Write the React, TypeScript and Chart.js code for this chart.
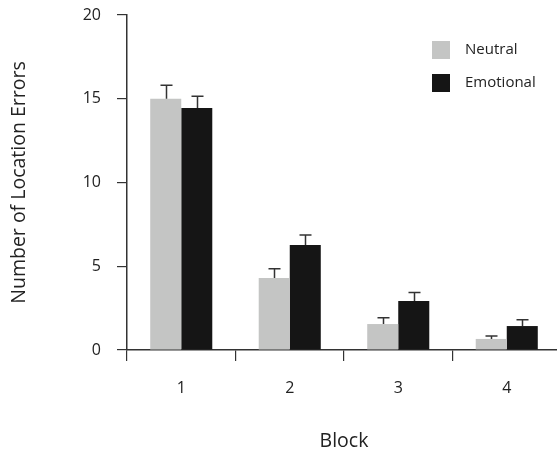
import React, { useEffect, useRef } from "react";
import { Chart, registerables } from "chart.js";

Chart.register(...registerables);

const blocks = ["1", "2", "3", "4"];
const neutralMeans = [15.0, 4.3, 1.55, 0.66];
const neutralErr = [0.8, 0.55, 0.38, 0.18];
const emotionalMeans = [14.45, 6.27, 2.93, 1.43];
const emotionalErr = [0.7, 0.6, 0.5, 0.38];
const yTicks = [0, 5, 10, 15, 20];

const errors = [neutralErr, emotionalErr];

const FONT = "'Open Sans', 'Noto Sans', sans-serif";
const AXIS = "#333333";

const errorBarPlugin = {
  id: "errorBars",
  afterDatasetsDraw(chart: any) {
    const ctx = chart.ctx;
    const yScale = chart.scales.y;
    ctx.save();
    ctx.strokeStyle = "#333333";
    ctx.lineWidth = 1.5;
    chart.data.datasets.forEach((ds: any, di: number) => {
      const meta = chart.getDatasetMeta(di);
      meta.data.forEach((bar: any, i: number) => {
        const v = ds.data[i];
        const top = yScale.getPixelForValue(v + errors[di][i]);
        const x = Math.round(bar.x) + 0.5;
        ctx.beginPath();
        ctx.moveTo(x, bar.y);
        ctx.lineTo(x, top);
        ctx.moveTo(x - 6, top);
        ctx.lineTo(x + 6, top);
        ctx.stroke();
      });
    });
    ctx.restore();
  },
};

const legendPlugin = {
  id: "customLegend",
  afterDraw(chart: any) {
    const ctx = chart.ctx;
    ctx.save();
    ctx.font = `15px ${FONT}`;
    ctx.textBaseline = "middle";
    chart.data.datasets.forEach((ds: any, i: number) => {
      const y = 41 + i * 33;
      ctx.fillStyle = ds.backgroundColor;
      ctx.fillRect(432, y, 18, 18);
      ctx.fillStyle = "#222222";
      ctx.fillText(ds.label, 465, y + 9);
    });
    ctx.restore();
  },
};

export default function App() {
  const ref = useRef<HTMLCanvasElement>(null);
  useEffect(() => {
    document.documentElement.style.overflow = "hidden";
    document.body.style.margin = "0";
    document.body.style.overflow = "hidden";
    const chart = new Chart(ref.current!, {
      type: "bar",
      data: {
        labels: blocks,
        datasets: [
          {
            label: "Neutral",
            data: neutralMeans,
            backgroundColor: "#c4c5c4",
            borderWidth: 0,
            categoryPercentage: 0.572,
            barPercentage: 1.0,
          },
          {
            label: "Emotional",
            data: emotionalMeans,
            backgroundColor: "#151515",
            borderWidth: 0,
            categoryPercentage: 0.572,
            barPercentage: 1.0,
          },
        ],
      },
      options: {
        animation: false,
        responsive: false,
        maintainAspectRatio: false,
        layout: { padding: { top: 15, left: 0, right: 0, bottom: 0 } },
        plugins: { legend: { display: false }, tooltip: { enabled: false } },
        scales: {
          x: {
            offset: true,
            grid: {
              display: true,
              offset: true,
              drawOnChartArea: false,
              drawTicks: true,
              tickLength: 11,
              color: AXIS,
              lineWidth: 1.2,
            },
            border: { display: true, color: AXIS, width: 1.5 },
            ticks: { color: "#222222", font: { family: FONT, size: 16 }, padding: 18 },
            title: {
              display: true,
              text: "Block",
              color: "#222222",
              font: { family: FONT, size: 19.5 },
              padding: { top: 10, bottom: 0 },
            },
            afterFit(scale: any) {
              scale.height = 103;
            },
          } as any,
          y: {
            min: 0,
            max: 20,
            afterBuildTicks(scale: any) {
              scale.ticks = yTicks.map((v) => ({ value: v }));
            },
            grid: {
              display: true,
              drawOnChartArea: false,
              drawTicks: true,
              tickLength: 10,
              color: AXIS,
              lineWidth: 1.2,
            },
            border: { display: true, color: AXIS, width: 1.5 },
            ticks: { color: "#222222", font: { family: FONT, size: 16 }, padding: 16 },
            title: {
              display: true,
              text: "Number of Location Errors",
              color: "#222222",
              font: { family: FONT, size: 19.5 },
              padding: { top: 8, bottom: 30 },
            },
            afterFit(scale: any) {
              scale.width = 127;
              scale.paddingTop = 0;
            },
          } as any,
        },
      },
      plugins: [errorBarPlugin, legendPlugin],
    });
    return () => chart.destroy();
  }, []);
  return <canvas ref={ref} width={561} height={453} style={{ display: "block" }} />;
}
